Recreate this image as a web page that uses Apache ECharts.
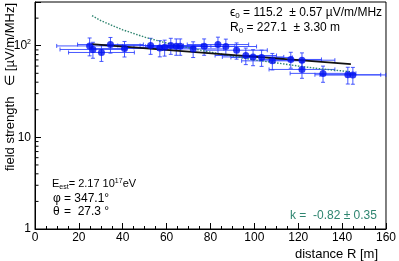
<!DOCTYPE html>
<html><head><meta charset="utf-8">
<script src="https://cdn.jsdelivr.net/npm/echarts@6/dist/echarts.min.js"></script>
<style>html,body{margin:0;padding:0;background:#fff}#c{width:399px;height:261px}</style>
</head><body><div id="c"></div>
<script>
// measured points: distance R [m] and field strength [uV/m/MHz]
const distance = [24.9, 26.4, 30.3, 34.4, 40.8, 52.7, 56.9, 59.1, 61.9, 64.4, 66.2, 72.1, 77.1, 83.4, 87.0, 91.9, 96.1, 99.4, 103.3, 108.2, 116.6, 121.7, 121.7, 131.3, 142.6, 144.9];
const distErr  = [15, 15, 15, 15, 15, 15, 15, 14, 14, 14, 14, 14, 14, 14, 14, 14, 14, 14, 14, 14, 14, 15, 15, 15, 15, 15];
const field    = [99.5, 91, 84.4, 103, 93.3, 100.5, 94.6, 96, 100.5, 98.6, 98.6, 92.3, 98.6, 103, 98, 89.3, 78.2, 75.5, 74.5, 68.4, 70.8, 69.5, 55.1, 49.9, 48.2, 48];
const fieldErr = [22, 18, 17, 20, 18, 20, 19, 19, 20, 20, 20, 18, 20, 21, 20, 18, 16, 15, 15, 14, 14, 14, 11, 10, 10, 10];
// exponential fit (black)
const expFitR = [25.7, 144];
const expFitE = [104, 63];
// power-law fit (green dotted)
const powFitR = [26, 30, 35, 40, 45, 50, 55, 60, 70, 80, 90, 100, 110, 120, 130, 144];
const powFitE = [213, 188, 167, 149, 136, 124, 115, 107, 95, 85, 77, 70, 65, 60, 56, 52];
// axis ticks
const xTickLabels = [0, 20, 40, 60, 80, 100, 120, 140, 160];
const yMinorTicks = [2, 3, 4, 5, 6, 7, 8, 9, 20, 30, 40, 50, 60, 70, 80, 90, 200];

const FONT = 'Liberation Sans';
const GREEN = '#2f8570';
const chart = echarts.init(document.getElementById('c'), null, {renderer: 'canvas'});

chart.setOption({
  animation: false,
  backgroundColor: '#fff',
  grid: {left: 35, right: 7, top: 2, bottom: 32, show: true, borderColor: '#000', borderWidth: 1},
  xAxis: {
    type: 'value', min: xTickLabels[0], max: xTickLabels[xTickLabels.length - 1], interval: 20,
    axisLine: {show: true, lineStyle: {color: '#000', width: 1}},
    axisTick: {show: true, inside: true, length: 6, lineStyle: {color: '#000'}},
    minorTick: {show: true, splitNumber: 4, length: 3, lineStyle: {color: '#000'}},
    splitLine: {show: false},
    axisLabel: {color: '#000', fontFamily: FONT, fontSize: 12, margin: 3}
  },
  yAxis: {
    type: 'log', logBase: 10, min: 1, max: 300,
    axisLine: {show: true, lineStyle: {color: '#000', width: 1}},
    axisTick: {show: true, inside: true, length: 6, lineStyle: {color: '#000'}},
    splitLine: {show: false},
    axisLabel: {
      color: '#000', fontFamily: FONT, fontSize: 12, margin: 4,
      formatter: function (v) {
        const l = Math.round(Math.log10(v) * 1000) / 1000;
        if (l === 0) return '1';
        if (l === 1) return '10';
        if (l === 2) return '10{s|2}';
        return '';
      },
      rich: {s: {fontSize: 7, verticalAlign: 'top', padding: [0, 0, 8, 0], fontFamily: FONT, color: '#000'}}
    }
  },
  series: [
    {
      type: 'custom', silent: true, z: 1,
      data: yMinorTicks.map(v => [0, v]),
      renderItem: function (params, api) {
        const p = api.coord([api.value(0), api.value(1)]);
        return {type: 'line', shape: {x1: p[0], y1: p[1], x2: p[0] + 3.5, y2: p[1]}, style: {stroke: '#000', lineWidth: 1}};
      }
    },
    {
      type: 'custom', silent: true, z: 2,
      data: distance.map((d, i) => [d, distErr[i], field[i], fieldErr[i]]),
      encode: {x: 0, y: 2},
      renderItem: function (params, api) {
        const x = api.value(0), ex = api.value(1), y = api.value(2), ey = api.value(3);
        const L = api.coord([x - ex, y]), R = api.coord([x + ex, y]);
        const T = api.coord([x, y + ey]), B = api.coord([x, y - ey]);
        const st = {stroke: 'rgba(40,60,255,0.85)', lineWidth: 1};
        const c = 2;
        return {type: 'group', children: [
          {type: 'line', shape: {x1: L[0], y1: L[1], x2: R[0], y2: R[1]}, style: st},
          {type: 'line', shape: {x1: L[0], y1: L[1] - c, x2: L[0], y2: L[1] + c}, style: st},
          {type: 'line', shape: {x1: R[0], y1: R[1] - c, x2: R[0], y2: R[1] + c}, style: st},
          {type: 'line', shape: {x1: T[0], y1: T[1], x2: B[0], y2: B[1]}, style: st},
          {type: 'line', shape: {x1: T[0] - c, y1: T[1], x2: T[0] + c, y2: T[1]}, style: st},
          {type: 'line', shape: {x1: B[0] - c, y1: B[1], x2: B[0] + c, y2: B[1]}, style: st}
        ]};
      }
    },
    {
      type: 'line', z: 3, showSymbol: false, silent: true,
      data: powFitR.map((r, i) => [r, powFitE[i]]),
      lineStyle: {color: GREEN, width: 1.4, type: [1.5, 1.5]}
    },
    {
      type: 'line', z: 4, showSymbol: false, silent: true,
      data: expFitR.map((r, i) => [r, expFitE[i]]),
      lineStyle: {color: '#111', width: 1.6}
    },
    {
      type: 'scatter', z: 5, silent: true, symbol: 'circle', symbolSize: 7,
      data: distance.map((d, i) => [d, field[i]]),
      itemStyle: {color: '#0010f0'}
    }
  ],
  graphic: [
    {type: 'text', x: 4, y: 3, rotation: Math.PI / 2, silent: true,
      style: {text: 'field strength   \u2208 [\u00b5V/m/MHz]', fontFamily: FONT, fontSize: 13, fill: '#000', align: 'right', verticalAlign: 'top'}},
    {type: 'text', x: 378, y: 254, silent: true,
      style: {text: 'distance R [m]', fontFamily: FONT, fontSize: 13, fill: '#000', align: 'right', verticalAlign: 'middle'}},
    {type: 'text', x: 230, y: 13, silent: true,
      style: {text: '\u03f5{s|0} = 115.2  \u00b1 0.57 \u00b5V/m/MHz', fontFamily: FONT, fontSize: 12, fill: '#000', verticalAlign: 'middle',
        rich: {s: {fontSize: 8, fontFamily: FONT, fill: '#000', padding: [6, 0, 0, 0]}}}},
    {type: 'text', x: 230, y: 28, silent: true,
      style: {text: 'R{s|0} = 227.1  \u00b1 3.30 m', fontFamily: FONT, fontSize: 12, fill: '#000', verticalAlign: 'middle',
        rich: {s: {fontSize: 8, fontFamily: FONT, fill: '#000', padding: [6, 0, 0, 0]}}}},
    {type: 'text', x: 52, y: 184, silent: true,
      style: {text: 'E{s|est}= 2.17 10{p|17}eV', fontFamily: FONT, fontSize: 11, fill: '#000', verticalAlign: 'middle',
        rich: {s: {fontSize: 7, fontFamily: FONT, fill: '#000', padding: [6, 0, 0, 0]},
               p: {fontSize: 7, fontFamily: FONT, fill: '#000', padding: [0, 0, 6, 0]}}}},
    {type: 'text', x: 53, y: 199, silent: true,
      style: {text: '\u03c6', fontFamily: FONT, fontSize: 12, fill: '#000', verticalAlign: 'middle'}},
    {type: 'text', x: 64, y: 199, silent: true,
      style: {text: '= 347.1\u00b0', fontFamily: FONT, fontSize: 12, fill: '#000', verticalAlign: 'middle'}},
    {type: 'text', x: 53, y: 212, silent: true,
      style: {text: '\u03b8', fontFamily: FONT, fontSize: 12, fill: '#000', verticalAlign: 'middle'}},
    {type: 'text', x: 64, y: 212, silent: true,
      style: {text: '=  27.3 \u00b0', fontFamily: FONT, fontSize: 12, fill: '#000', verticalAlign: 'middle'}},
    {type: 'text', x: 290, y: 216, silent: true,
      style: {text: 'k =  -0.82 \u00b1 0.35', fontFamily: FONT, fontSize: 12, fill: GREEN, verticalAlign: 'middle'}}
  ]
});
</script>
</body></html>
